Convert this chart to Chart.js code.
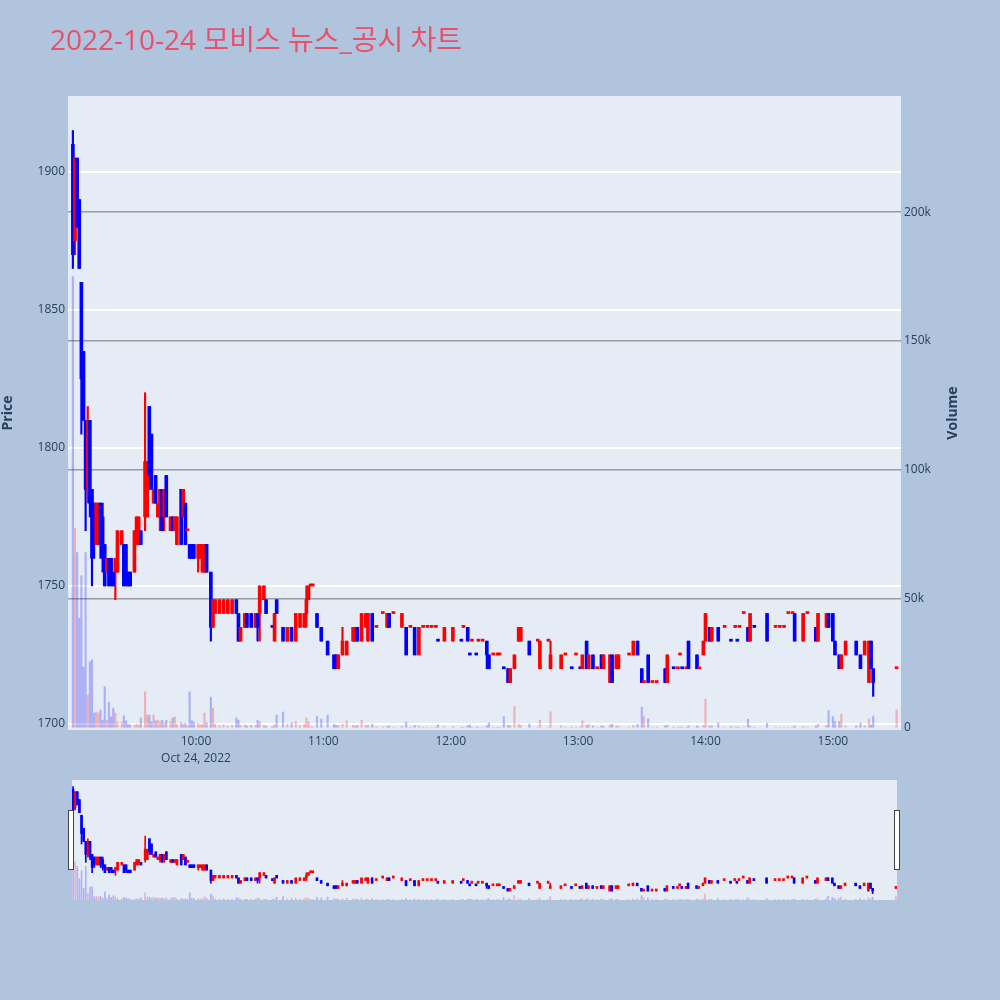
<!DOCTYPE html>
<html lang="ko">
<head>
<meta charset="UTF-8">
<title>2022-10-24 모비스 뉴스_공시 차트</title>
<script src="https://cdn.jsdelivr.net/npm/chart.js"></script>
<style>
    body { margin: 0; background: #b0c4de; }
    #wrap { position: relative; width: 1000px; height: 1000px; background: #b0c4de; }
    #title { position: absolute; left: 50px; top: 24px; font-family: "Open Sans", "Noto Sans CJK KR", sans-serif;
             font-size: 28px; line-height: 30px; color: #e9506a; white-space: nowrap; }
    #main { position: absolute; left: 0; top: 0; }
    #slider { position: absolute; left: 72px; top: 780px; background: #e5ecf6; }
    .handle { position: absolute; top: 810px; width: 4px; height: 58px; background: #fff; border: 1px solid #444; }
</style>
</head>
<body>
<div id="wrap">
    <canvas id="main" width="1000" height="780"></canvas>
    <canvas id="slider" width="825" height="120"></canvas>
    <div class="handle" style="left:68px"></div>
    <div class="handle" style="left:894px"></div>
    <div id="title">2022-10-24 모비스 뉴스_공시 차트</div>
</div>
<script>
// 분봉 데이터
var times = [
    '09:02','09:03','09:04','09:05','09:06','09:07','09:08','09:09','09:10','09:11',
    '09:12','09:13','09:14','09:15','09:16','09:17','09:18','09:19','09:20','09:21',
    '09:22','09:23','09:25','09:26','09:27','09:28','09:29','09:31','09:32','09:33',
    '09:34','09:36','09:37','09:38','09:39','09:40','09:41','09:42','09:43','09:44',
    '09:45','09:46','09:48','09:49','09:50','09:51','09:53','09:54','09:55','09:56',
    '09:57','09:58','09:59','10:01','10:02','10:03','10:04','10:05','10:07','10:08',
    '10:09','10:11','10:13','10:15','10:17','10:19','10:20','10:21','10:23','10:24',
    '10:26','10:28','10:29','10:30','10:32','10:33','10:36','10:37','10:38','10:41',
    '10:43','10:45','10:47','10:49','10:51','10:52','10:53','10:54','10:55','10:57',
    '10:59','11:02','11:05','11:06','11:07','11:09','11:11','11:14','11:15','11:16',
    '11:18','11:20','11:21','11:23','11:25','11:28','11:30','11:31','11:33','11:37',
    '11:39','11:41','11:43','11:45','11:47','11:49','11:51','11:53','11:54','11:57',
    '12:01','12:05','12:06','12:08','12:09','12:10','12:12','12:13','12:15','12:17',
    '12:18','12:20','12:22','12:23','12:25','12:27','12:28','12:30','12:32','12:33',
    '12:37','12:41','12:42','12:46','12:47','12:52','12:54','12:57','12:59','13:01',
    '13:02','13:04','13:05','13:07','13:09','13:11','13:12','13:15','13:16','13:18',
    '13:19','13:24','13:26','13:28','13:30','13:31','13:33','13:35','13:37','13:41',
    '13:42','13:45','13:47','13:48','13:49','13:51','13:52','13:56','13:57','13:59',
    '14:00','14:02','14:03','14:06','14:09','14:12','14:14','14:15','14:16','14:18',
    '14:20','14:21','14:23','14:29','14:33','14:35','14:37','14:39','14:41','14:42',
    '14:46','14:48','14:52','14:53','14:57','14:58','15:00','15:01','15:03','15:04',
    '15:06','15:11','15:13','15:15','15:17','15:18','15:19','15:30'
];
var open = [
    1910,1875,1905,1890,1860,1835,1810,1785,1810,1785,
    1780,1765,1765,1780,1775,1765,1755,1760,1760,1755,
    1755,1755,1765,1765,1765,1755,1755,1755,1765,1770,
    1770,1775,1775,1815,1805,1780,1790,1775,1775,1785,
    1775,1790,1770,1775,1770,1765,1785,1775,1780,1770,
    1765,1765,1765,1760,1760,1755,1755,1765,1755,1735,
    1740,1740,1740,1740,1740,1745,1740,1730,1735,1740,
    1740,1735,1740,1740,1745,1745,1735,1730,1745,1735,
    1730,1735,1730,1735,1735,1740,1745,1750,1750,1740,
    1735,1730,1725,1725,1720,1725,1725,1730,1730,1735,
    1730,1735,1730,1740,1735,1740,1735,1740,1740,1735,
    1735,1735,1735,1725,1735,1735,1735,1735,1730,1730,
    1730,1730,1735,1735,1725,1730,1725,1730,1730,1730,
    1725,1725,1725,1725,1720,1720,1715,1720,1730,1730,
    1730,1730,1720,1730,1720,1720,1725,1720,1725,1720,
    1720,1730,1720,1725,1720,1725,1720,1715,1725,1720,
    1720,1725,1725,1730,1720,1715,1725,1715,1715,1720,
    1715,1720,1720,1725,1720,1720,1730,1725,1720,1725,
    1730,1735,1730,1735,1735,1730,1735,1730,1735,1740,
    1735,1730,1735,1740,1735,1735,1735,1740,1740,1740,
    1730,1740,1735,1730,1735,1740,1740,1730,1725,1720,
    1725,1730,1725,1725,1715,1730,1720,1720
];
var high = [
    1915,1905,1905,1890,1860,1835,1810,1815,1810,1785,
    1780,1780,1780,1780,1780,1765,1760,1760,1760,1755,
    1760,1770,1770,1765,1765,1755,1755,1770,1775,1775,
    1770,1820,1795,1815,1805,1785,1790,1780,1785,1785,
    1785,1790,1775,1775,1775,1775,1785,1785,1780,1770,
    1765,1765,1765,1765,1765,1765,1765,1765,1755,1745,
    1745,1745,1745,1745,1745,1745,1740,1735,1740,1740,
    1740,1740,1740,1750,1750,1745,1735,1740,1745,1735,
    1735,1735,1740,1740,1740,1750,1750,1750,1750,1740,
    1735,1730,1725,1725,1725,1735,1730,1735,1735,1735,
    1740,1740,1740,1740,1735,1740,1740,1740,1740,1740,
    1735,1735,1735,1735,1735,1735,1735,1735,1730,1735,
    1735,1730,1735,1735,1725,1730,1725,1730,1730,1730,
    1725,1725,1725,1725,1720,1720,1720,1725,1735,1735,
    1730,1730,1730,1730,1730,1725,1725,1720,1725,1720,
    1725,1730,1725,1725,1720,1725,1725,1725,1725,1725,
    1725,1725,1730,1730,1720,1715,1725,1715,1715,1720,
    1725,1720,1720,1725,1720,1720,1730,1725,1720,1730,
    1740,1735,1735,1735,1735,1730,1735,1730,1735,1740,
    1735,1740,1735,1740,1735,1735,1735,1740,1740,1740,
    1740,1740,1735,1740,1740,1740,1740,1730,1725,1725,
    1730,1730,1725,1730,1730,1730,1720,1720
];
var low = [
    1865,1870,1880,1865,1805,1810,1770,1780,1775,1750,
    1760,1765,1765,1760,1755,1750,1755,1750,1750,1750,
    1745,1755,1765,1750,1750,1750,1750,1755,1765,1765,
    1765,1770,1775,1785,1785,1780,1780,1775,1770,1770,
    1770,1775,1770,1770,1770,1765,1765,1775,1765,1770,
    1760,1760,1760,1755,1760,1755,1755,1755,1730,1735,
    1740,1740,1740,1740,1740,1740,1730,1730,1735,1735,
    1735,1735,1730,1730,1745,1740,1735,1730,1740,1730,
    1730,1730,1730,1735,1735,1735,1745,1750,1750,1735,
    1730,1725,1720,1720,1720,1725,1725,1730,1730,1730,
    1730,1735,1730,1730,1735,1740,1735,1735,1740,1735,
    1725,1735,1725,1725,1735,1735,1735,1735,1730,1730,
    1730,1730,1735,1730,1725,1730,1725,1730,1730,1720,
    1720,1725,1725,1725,1720,1715,1715,1720,1730,1730,
    1725,1730,1720,1730,1720,1720,1725,1720,1725,1720,
    1720,1720,1720,1720,1720,1720,1720,1715,1715,1720,
    1720,1725,1725,1725,1715,1715,1715,1715,1715,1715,
    1715,1720,1720,1725,1720,1720,1720,1720,1720,1725,
    1730,1730,1730,1730,1735,1730,1735,1730,1735,1740,
    1730,1730,1735,1730,1735,1735,1735,1740,1740,1730,
    1730,1740,1730,1730,1735,1735,1730,1725,1720,1720,
    1725,1725,1720,1725,1715,1720,1710,1720
];
var close = [
    1870,1905,1880,1865,1825,1810,1785,1810,1780,1760,
    1765,1780,1780,1765,1760,1750,1760,1750,1755,1750,
    1760,1770,1770,1750,1755,1750,1750,1770,1775,1775,
    1765,1795,1795,1790,1785,1785,1780,1780,1785,1770,
    1785,1775,1775,1770,1775,1775,1765,1785,1765,1770,
    1760,1760,1760,1765,1765,1765,1765,1755,1735,1745,
    1745,1745,1745,1745,1745,1740,1730,1735,1740,1735,
    1735,1740,1735,1750,1750,1740,1735,1740,1740,1730,
    1735,1730,1740,1740,1740,1745,1750,1750,1750,1735,
    1730,1725,1720,1720,1725,1730,1730,1735,1735,1730,
    1740,1740,1740,1730,1735,1740,1740,1735,1740,1740,
    1725,1735,1725,1735,1735,1735,1735,1735,1730,1735,
    1735,1730,1735,1730,1725,1730,1725,1730,1730,1725,
    1720,1725,1725,1725,1720,1715,1720,1725,1735,1735,
    1725,1730,1730,1730,1725,1725,1725,1720,1725,1720,
    1725,1720,1725,1720,1720,1720,1725,1725,1715,1725,
    1725,1725,1730,1725,1715,1715,1715,1715,1715,1715,
    1725,1720,1720,1725,1720,1720,1720,1720,1720,1730,
    1740,1730,1735,1730,1735,1730,1735,1730,1735,1740,
    1730,1740,1735,1730,1735,1735,1735,1740,1740,1730,
    1740,1740,1730,1740,1740,1735,1730,1725,1720,1725,
    1730,1725,1720,1730,1730,1720,1715,1720
];
var volume = [
    175000,77500,68000,42600,59000,23600,68000,12800,25600,26400,
    5800,6200,5800,7000,3000,16000,3000,10000,4300,7700,
    5800,2300,2300,4700,2800,1500,1200,1000,1500,1200,
    3900,14000,5000,5000,2500,5000,2800,3000,2500,3000,
    2000,3000,2500,3900,4300,1500,2000,1500,1800,800,
    14000,2800,2300,1800,1200,1500,5800,2000,12000,7700,
    1500,1000,1200,800,1000,3900,3000,1000,1200,800,
    1000,1000,3000,2500,1000,800,500,1200,5000,6200,
    1500,2000,2500,1000,1500,3900,2500,500,400,4400,
    3500,5000,1500,1000,1000,1500,2800,1000,800,1000,
    3000,1000,1200,1500,400,400,600,800,300,600,
    2300,300,1000,800,300,300,300,300,1200,500,
    500,300,300,800,1200,300,300,300,300,800,
    2000,300,300,300,4400,1000,1000,8300,1500,1000,
    1600,300,3000,300,6300,800,300,300,300,300,
    2800,1000,1500,800,300,800,800,1200,1500,800,
    600,300,1000,1500,8100,4400,3500,300,300,800,
    1200,300,300,300,300,300,800,800,300,1000,
    11200,800,800,2000,300,600,300,300,300,300,
    3400,800,300,1900,300,300,300,300,300,800,
    600,300,800,1500,1000,6700,4400,2500,2500,5400,
    800,800,1900,800,3500,1200,4600,7000
];

var xTickTimes = ['10:00', '11:00', '12:00', '13:00', '14:00', '15:00'];
var xTickLabels = [['10:00', 'Oct 24, 2022'], '11:00', '12:00', '13:00', '14:00', '15:00'];
var priceTicks = [1700, 1750, 1800, 1850, 1900];
var priceTickLabels = ['1700', '1750', '1800', '1850', '1900'];
var volTicks = [0, 50000, 100000, 150000, 200000];
var volTickLabels = ['0', '50k', '100k', '150k', '200k'];

Chart.defaults.font.family = '"Open Sans", "Noto Sans CJK KR", sans-serif';

// 09:00 부터 몇 분인지
function toMin(t) {
    var p = t.split(':');
    return (Number(p[0]) - 9) * 60 + Number(p[1]);
}

var xs = times.map(toMin);
var xTicks = xTickTimes.map(toMin);

var up = [];
for (var i = 0; i < close.length; i++) {
    var prev = i > 0 ? close[i - 1] : close[i];
    up.push(close[i] > open[i] || (close[i] === open[i] && close[i] >= prev));
}
var candleColor = up.map(function (u) { return u ? '#ff0000' : '#0000ff'; });
var volColor = up.map(function (u) { return u ? 'rgba(255,0,0,0.25)' : 'rgba(0,0,255,0.25)'; });

function makeDatasets(bodyW, wickW, volW) {
    return [
        {
            label: 'Volume',
            data: xs.map(function (x, i) { return { x: x, y: volume[i] }; }),
            yAxisID: 'y2',
            backgroundColor: volColor,
            barThickness: volW,
            grouped: false,
            order: 3
        },
        {
            label: 'wick',
            data: xs.map(function (x, i) { return { x: x, y: [low[i], high[i]] }; }),
            yAxisID: 'y',
            backgroundColor: candleColor,
            barThickness: wickW,
            grouped: false,
            order: 2
        },
        {
            label: 'body',
            data: xs.map(function (x, i) { return { x: x, y: [open[i], close[i]] }; }),
            yAxisID: 'y',
            backgroundColor: candleColor,
            barThickness: bodyW,
            minBarLength: 2,
            grouped: false,
            order: 1
        }
    ];
}

var plotBg = {
    id: 'plotBg',
    beforeDraw: function (chart) {
        var a = chart.chartArea;
        var ctx = chart.ctx;
        ctx.save();
        ctx.fillStyle = '#e5ecf6';
        ctx.fillRect(a.left, a.top, a.right - a.left, a.bottom - a.top);
        ctx.restore();
    }
};

var volTitle = {
    id: 'volTitle',
    afterDraw: function (chart) {
        var a = chart.chartArea;
        var ctx = chart.ctx;
        ctx.save();
        ctx.translate(953, (a.top + a.bottom) / 2);
        ctx.rotate(-Math.PI / 2);
        ctx.font = 'bold 14px "Open Sans", sans-serif';
        ctx.fillStyle = '#2a3f5f';
        ctx.textAlign = 'center';
        ctx.textBaseline = 'middle';
        ctx.fillText('Volume', 0, 0);
        ctx.restore();
    }
};

var tickFont = { size: 12 };
var tickColor = '#2a3f5f';

new Chart(document.getElementById('main'), {
    type: 'bar',
    data: { datasets: makeDatasets(3, 1.5, 1.5) },
    plugins: [plotBg, volTitle],
    options: {
        responsive: false,
        animation: false,
        layout: { padding: { top: 96, left: 0, right: 0, bottom: 0 } },
        plugins: { legend: { display: false }, tooltip: { enabled: false } },
        scales: {
            x: {
                type: 'linear',
                min: -0.3,
                max: 392.1,
                offset: false,
                afterBuildTicks: function (s) { s.ticks = xTicks.map(function (v) { return { value: v }; }); },
                afterFit: function (s) { s.height = 50; },
                grid: { display: false, drawTicks: false },
                border: { display: false },
                ticks: {
                    color: tickColor,
                    font: { size: 12, lineHeight: 1.4 },
                    padding: 3,
                    maxRotation: 0,
                    autoSkip: false,
                    callback: function (v) { return xTickLabels[xTicks.indexOf(v)]; }
                }
            },
            y: {
                position: 'left',
                min: 1697.8,
                max: 1927.5,
                afterBuildTicks: function (s) { s.ticks = priceTicks.map(function (v) { return { value: v }; }); },
                afterFit: function (s) { s.width = 68; },
                grid: { color: '#ffffff', lineWidth: 2, drawTicks: false },
                border: { display: false },
                ticks: {
                    color: tickColor,
                    font: tickFont,
                    padding: 3,
                    callback: function (v) { return priceTickLabels[priceTicks.indexOf(v)]; }
                },
                title: {
                    display: true,
                    text: 'Price',
                    color: tickColor,
                    font: { size: 14, weight: 'bold' },
                    padding: { top: 0, bottom: 0 }
                }
            },
            y2: {
                position: 'right',
                min: -780,
                max: 245000,
                afterBuildTicks: function (s) { s.ticks = volTicks.map(function (v) { return { value: v }; }); },
                afterFit: function (s) { s.width = 99; },
                grid: {
                    color: function (c) { return c.tick && c.tick.value === 0 ? 'rgba(0,0,0,0)' : '#9a9aa0'; },
                    lineWidth: 1.5,
                    drawTicks: false
                },
                border: { display: false },
                ticks: {
                    color: tickColor,
                    font: tickFont,
                    padding: 3,
                    callback: function (v) { return volTickLabels[volTicks.indexOf(v)]; }
                }
            }
        }
    }
});

// 아래쪽 range slider 모양
new Chart(document.getElementById('slider'), {
    type: 'bar',
    data: { datasets: makeDatasets(2, 1, 1) },
    options: {
        responsive: false,
        animation: false,
        layout: { padding: 0 },
        plugins: { legend: { display: false }, tooltip: { enabled: false } },
        scales: {
            x: { type: 'linear', min: 1.5, max: 390.5, offset: false, display: false },
            y: { min: 1697.8, max: 1927.5, display: false },
            y2: { min: -780, max: 245000, display: false }
        }
    }
});
</script>
</body>
</html>
